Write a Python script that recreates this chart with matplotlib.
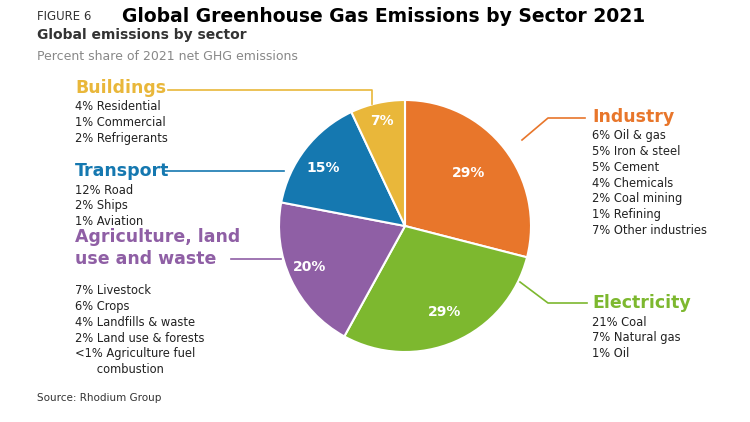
import matplotlib.pyplot as plt

sectors = ["Industry", "Electricity", "Agriculture, land\nuse and waste", "Transport", "Buildings"]
shares = [29, 29, 20, 15, 7]
colors = ["#E8762B", "#7DB82F", "#8F5FA5", "#1578B0", "#E9B73A"]

details = {
    "Industry": ["6% Oil & gas", "5% Iron & steel", "5% Cement", "4% Chemicals",
                 "2% Coal mining", "1% Refining", "7% Other industries"],
    "Electricity": ["21% Coal", "7% Natural gas", "1% Oil"],
    "Agriculture, land\nuse and waste": ["7% Livestock", "6% Crops", "4% Landfills & waste",
                                         "2% Land use & forests", "<1% Agriculture fuel",
                                         "      combustion"],
    "Transport": ["12% Road", "2% Ships", "1% Aviation"],
    "Buildings": ["4% Residential", "1% Commercial", "2% Refrigerants"],
}

W, H = 750, 422
fig = plt.figure(figsize=(7.5, 4.22), dpi=100)
ax = fig.add_axes([0, 0, 1, 1])
ax.set_xlim(0, W)
ax.set_ylim(0, H)
ax.axis("off")

def Y(y):
    return H - y

cx, cy, r = 405, 226, 126
wedges, texts = ax.pie(shares, colors=colors, startangle=90, counterclock=False,
                       center=(cx, Y(cy)), radius=r, frame=True,
                       wedgeprops=dict(edgecolor="white", linewidth=1.5))
ax.set_xlim(0, W)
ax.set_ylim(0, H)
ax.set_aspect("equal")
ax.axis("off")

label_pos = [(469, 173), (445, 312), (310, 267), (323, 168), (382, 121)]
for (x, y), s in zip(label_pos, shares):
    ax.text(x, Y(y), f"{s}%", color="white", fontsize=10, fontweight="bold",
            ha="center", va="center")

# headings and detail lists
blocks = [
    ("Buildings", 75, 88, colors[4]),
    ("Transport", 75, 171, colors[3]),
    ("Agriculture, land\nuse and waste", 75, 248, colors[2]),
    ("Industry", 592, 117, colors[0]),
    ("Electricity", 592, 303, colors[1]),
]
for name, x, y, c in blocks:
    ax.text(x, Y(y), name, color=c, fontsize=12.5, fontweight="bold",
            ha="left", va="center", linespacing=1.35)
    nlines = name.count("\n")
    y0 = y + 19 + nlines * 24
    for i, line in enumerate(details[name]):
        ax.text(x, Y(y0 + i * 15.7), line, color="#222222", fontsize=8.3,
                ha="left", va="center")

# leader lines
lines = [
    ([168, 372, 372], [90, 90, 104], colors[4]),
    ([165, 284], [171, 171], colors[3]),
    ([231, 281], [259, 259], colors[2]),
    ([585, 548, 522], [118, 118, 140], colors[0]),
    ([587, 548, 520], [303, 303, 282], colors[1]),
]
for xs, ys, c in lines:
    ax.plot(xs, [Y(v) for v in ys], color=c, lw=1.2)

ax.text(37, Y(16), "FIGURE 6", fontsize=8.5, color="#333333", va="center")
ax.text(122, Y(16), "Global Greenhouse Gas Emissions by Sector 2021", fontsize=13.5,
        fontweight="bold", color="black", va="center")
ax.text(37, Y(35), "Global emissions by sector", fontsize=10, fontweight="bold",
        color="#333333", va="center")
ax.text(37, Y(56), "Percent share of 2021 net GHG emissions", fontsize=9,
        color="#888888", va="center")
ax.text(37, Y(398), "Source: Rhodium Group", fontsize=7.5, color="#333333", va="center")

fig.savefig("out.png", dpi=100)
